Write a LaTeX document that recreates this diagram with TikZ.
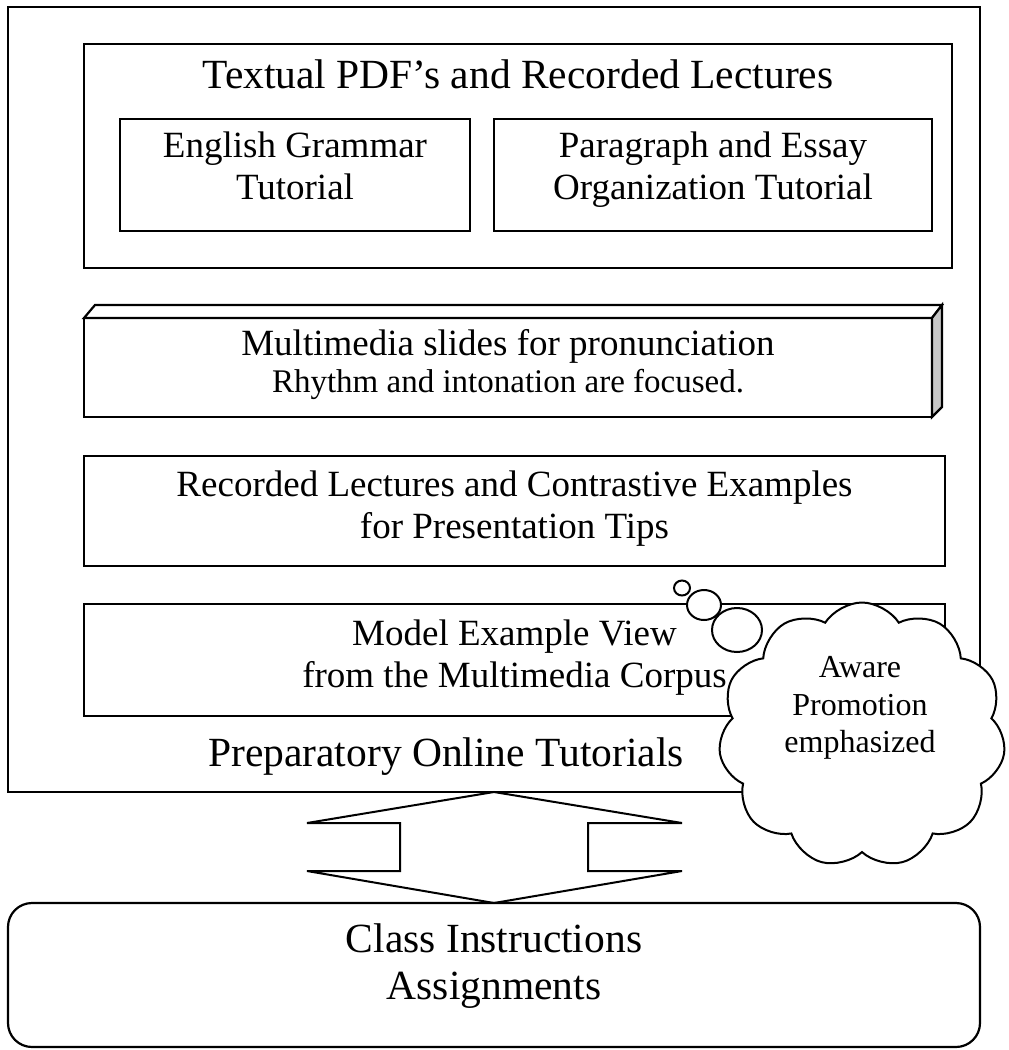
\documentclass[tikz,border=0pt]{standalone}
\usepackage{fontspec}
\setmainfont{Liberation Serif}
\usetikzlibrary{shapes.symbols,shapes.geometric,calc}
\begin{document}
\begin{tikzpicture}[x=1pt,y=-1pt,
  frame/.style={draw, line width=2.2pt, inner sep=0pt, outer sep=0pt, anchor=north west},
  bubble/.style={draw, fill=white, line width=2pt, ellipse, inner sep=0pt, outer sep=0pt},
  txt/.style={anchor=base, inner sep=0pt},
  big/.style={font=\fontsize{41.5}{46}\selectfont},
  mid/.style={font=\fontsize{37}{42}\selectfont},
  small/.style={font=\fontsize{33}{37}\selectfont},
  tiny/.style={font=\fontsize{32}{36}\selectfont},
]
\useasboundingbox (0,0) rectangle (1009,1050);

% outer frame of the online tutorials
\node[frame, minimum width=972pt, minimum height=785pt] (outer) at (8,7) {};

% textual PDFs group
\node[frame, minimum width=868pt, minimum height=224pt] (textual) at (84,44) {};
\node[txt, big] (textualT) at (518,88) {Textual PDF’s and Recorded Lectures};
\node[frame, minimum width=350pt, minimum height=112pt] (grammar) at (120,119) {};
\node[txt, mid] (grammarA) at (grammar.center |- 0,157) {English Grammar};
\node[txt, mid] (grammarB) at (grammar.center |- 0,199) {Tutorial};
\node[frame, minimum width=438pt, minimum height=112pt] (essay) at (494,119) {};
\node[txt, mid] (essayA) at (essay.center |- 0,157) {Paragraph and Essay};
\node[txt, mid] (essayB) at (essay.center |- 0,199) {Organization Tutorial};

% multimedia slides (raised box)
\node[frame, minimum width=848pt, minimum height=99pt] (mm) at (84,318) {};
\draw[line width=2.2pt, line join=miter, fill=white]
  (mm.north west) -- ++(11,-13) -- ($(mm.north east)+(10,-13)$) -- (mm.north east) -- cycle;
\draw[line width=2.2pt, line join=miter, fill=black!22]
  (mm.north east) -- ++(10,-13) -- ($(mm.south east)+(10,-10)$) -- (mm.south east) -- cycle;
\node[txt, mid] (mmA) at (mm.center |- 0,355) {Multimedia slides for pronunciation};
\node[txt, small] (mmB) at (mm.center |- 0,392) {Rhythm and intonation are focused.};

% recorded lectures
\node[frame, minimum width=861pt, minimum height=110pt] (rec) at (84,456) {};
\node[txt, mid] (recA) at (rec.center |- 0,496) {Recorded Lectures and Contrastive Examples};
\node[txt, mid] (recB) at (rec.center |- 0,538) {for Presentation Tips};

% model example
\node[frame, minimum width=861pt, minimum height=112pt] (model) at (84,604) {};
\node[txt, mid] (modelA) at (model.center |- 0,645) {Model Example View};
\node[txt, mid] (modelB) at (model.center |- 0,687) {from the Multimedia Corpus};

\node[txt, big] (prep) at (446,766) {Preparatory Online Tutorials};

% thought cloud
\node[bubble, minimum width=16pt, minimum height=15pt] (b1) at (682,588) {};
\node[bubble, minimum width=34pt, minimum height=30pt] (b2) at (704,605) {};
\node[bubble, minimum width=50pt, minimum height=44pt] (b3) at (737,630) {};
\node[cloud, draw, fill=white, line width=2pt, cloud puffs=11, cloud puff arc=115,
      aspect=1.08, minimum width=287pt, minimum height=265pt, inner sep=0pt] (cloud) at (862,735) {};
\node[txt, tiny] (cloudA) at (860,677) {Aware};
\node[txt, tiny] (cloudB) at (860,715) {Promotion};
\node[txt, tiny] (cloudC) at (860,752) {emphasized};

% class box
\node[frame, rounded corners=24pt, minimum width=972pt, minimum height=144pt] (cls) at (8,903) {};
\node[txt, big] (clsA) at (cls.center |- 0,952) {Class Instructions};
\node[txt, big] (clsB) at (cls.center |- 0,999) {Assignments};

% two-way arrow between the tutorials and the class
\draw[line width=2pt, line join=miter]
  (outer.south) -- (307,823) -- (400,823) -- (400,871) -- (307,871) -- (cls.north)
  -- (682,871) -- (588,871) -- (588,823) -- (682,823) -- cycle;
\end{tikzpicture}
\end{document}
